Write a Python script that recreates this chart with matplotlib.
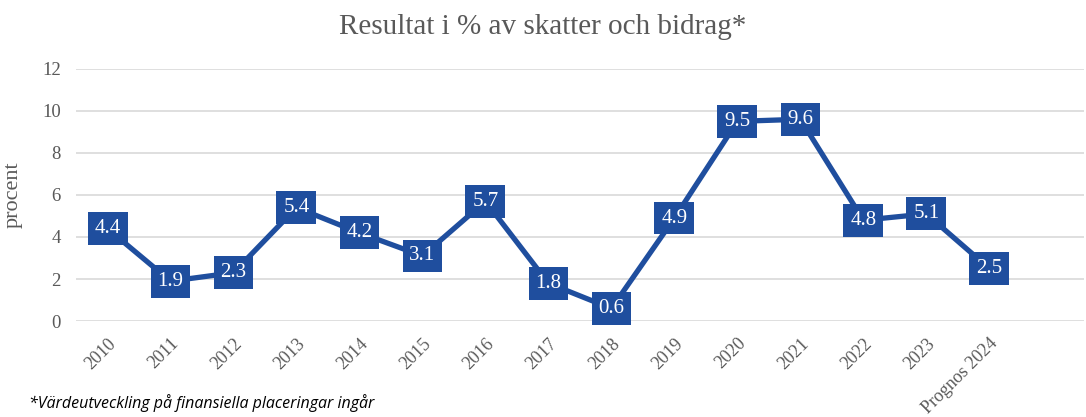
import matplotlib.pyplot as plt
import numpy as np

# Data
years = ["2010", "2011", "2012", "2013", "2014", "2015", "2016", "2017",
         "2018", "2019", "2020", "2021", "2022", "2023", "Prognos 2024"]
values = [4.4, 1.9, 2.3, 5.4, 4.2, 3.1, 5.7, 1.8, 0.6, 4.9, 9.5, 9.6, 4.8, 5.1, 2.5]

blue = "#1F4E9E"
gray = "#595959"
serif = ["Liberation Serif", "DejaVu Serif"]

fig = plt.figure(figsize=(10.86, 4.17), dpi=100)
ax = fig.add_axes([0.07, 0.23, 0.928, 0.605])

x = np.arange(len(years))
ax.plot(x, values, color=blue, linewidth=3.8, solid_joinstyle="miter", zorder=3)

for xi, v in zip(x, values):
    ax.text(xi, v, f"{v:.1f}", ha="center", va="center", color="white",
            family=serif, fontsize=15, zorder=4,
            bbox=dict(boxstyle="square,pad=0.33", facecolor=blue, edgecolor="none"))

ax.set_xlim(-0.5, len(years) + 0.5)
ax.set_ylim(0, 12)
ax.set_yticks(range(0, 13, 2))
ax.yaxis.grid(True, color="#D9D9D9", linewidth=1.2)
ax.set_axisbelow(True)
for s in ax.spines.values():
    s.set_visible(False)
ax.tick_params(length=0)

ax.set_xticks(x)
ax.set_xticklabels(years, rotation=45, ha="right", rotation_mode="anchor",
                   family=serif, fontsize=13, color=gray)
ax.tick_params(axis="x", pad=10)
for lab in ax.get_yticklabels():
    lab.set_family(serif)
    lab.set_fontsize(13.5)
    lab.set_color(gray)
ax.tick_params(axis="y", pad=11)

ax.set_ylabel("procent", family=serif, fontsize=16, color=gray, labelpad=14)
fig.text(0.5, 0.935, "Resultat i % av skatter och bidrag*", ha="center", va="center",
         family=serif, fontsize=21, color=gray)
fig.text(0.027, 0.012, "*Värdeutveckling på finansiella placeringar ingår",
         ha="left", va="bottom", family=["Open Sans", "DejaVu Sans"],
         style="italic", fontsize=11.5, color="black")

fig.savefig("out.png", dpi=100)
